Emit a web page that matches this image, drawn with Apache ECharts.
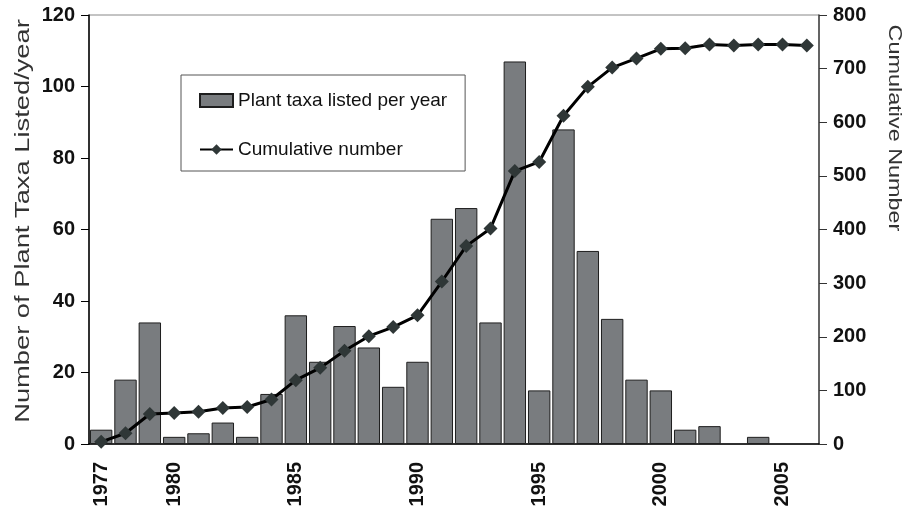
<!DOCTYPE html>
<html>
<head>
<meta charset="utf-8">
<script src="https://cdn.jsdelivr.net/npm/echarts@6/dist/echarts.min.js"></script>
<style>
html, body { margin: 0; padding: 0; background: #fff; }
#chart { width: 907px; height: 514px; }
</style>
</head>
<body>
<div id="chart"></div>
<script>
// years on the x axis, only some get a label
var years = ['1977','1978','1979','1980','1981','1982','1983','1984','1985','1986',
             '1987','1988','1989','1990','1991','1992','1993','1994','1995','1996',
             '1997','1998','1999','2000','2001','2002','2003','2004','2005','2006'];
var labelYears = ['1977','1980','1985','1990','1995','2000','2005'];

// plant taxa listed per year (left axis)
var perYear = [4, 18, 34, 2, 3, 6, 2, 14, 36, 23,
               33, 27, 16, 23, 63, 66, 34, 107, 15, 88,
               54, 35, 18, 15, 4, 5, 0, 2, 0, 0];

// cumulative number (right axis)
var cumulative = [4, 20, 56, 58, 60, 67, 69, 83, 119, 142,
                  174, 201, 218, 240, 303, 369, 402, 509, 526, 612,
                  666, 702, 719, 737, 738, 745, 743, 745, 745, 743];

var font = 'Liberation Sans, Arial, sans-serif';

var myChart = echarts.init(document.getElementById('chart'));
var option = {
    animation: false,
    textStyle: { fontFamily: font },
    grid: {
        left: 89, right: 88, top: 15, bottom: 70,
        show: true,
        borderColor: '#888',
        borderWidth: 1
    },
    legend: {
        orient: 'vertical',
        left: 181,
        top: 75,
        padding: [16, 18, 12, 18],
        itemGap: 30,
        itemWidth: 33,
        itemHeight: 13,
        borderColor: '#555',
        borderWidth: 1,
        backgroundColor: '#fff',
        textStyle: { fontSize: 19, color: '#111', fontFamily: font },
        data: [
            { name: 'Plant taxa listed per year', icon: 'rect' },
            { name: 'Cumulative number' }
        ]
    },
    graphic: [
        {
            type: 'text',
            x: 23, y: 221,
            rotation: Math.PI / 2,
            scaleX: 1.3,
            style: {
                text: 'Number of Plant Taxa Listed/year',
                font: '21px ' + font,
                fill: '#333',
                textAlign: 'center',
                textVerticalAlign: 'middle'
            }
        },
        {
            type: 'text',
            x: 894, y: 128,
            rotation: -Math.PI / 2,
            scaleX: 1.3,
            style: {
                text: 'Cumulative Number',
                font: '18px ' + font,
                fill: '#333',
                textAlign: 'center',
                textVerticalAlign: 'middle'
            }
        }
    ],
    xAxis: {
        type: 'category',
        data: years,
        boundaryGap: true,
        axisLine: { lineStyle: { color: '#000', width: 1.5 } },
        axisTick: { interval: 0, length: 7, lineStyle: { color: '#000' } },
        axisLabel: {
            interval: function (idx, val) { return labelYears.indexOf(val) >= 0; },
            rotate: 90,
            margin: 18,
            fontSize: 20,
            fontWeight: 'bold',
            color: '#111'
        },
        splitLine: { show: false }
    },
    yAxis: [
        {
            type: 'value',
            min: 0, max: 120, interval: 20,
            axisLine: { show: true, lineStyle: { color: '#000', width: 1.5 } },
            axisTick: { show: true, length: 8, lineStyle: { color: '#000' } },
            axisLabel: { margin: 14, fontSize: 20, fontWeight: 'bold', color: '#111' },
            splitLine: { show: false }
        },
        {
            type: 'value',
            min: 0, max: 800, interval: 100,
            position: 'right',
            axisLine: { show: true, lineStyle: { color: '#444', width: 1.5 } },
            axisTick: { show: true, length: 8, lineStyle: { color: '#333' } },
            axisLabel: { margin: 14, fontSize: 20, fontWeight: 'bold', color: '#111' },
            splitLine: { show: false }
        }
    ],
    series: [
        {
            name: 'Plant taxa listed per year',
            type: 'bar',
            yAxisIndex: 0,
            barCategoryGap: '8%',
            itemStyle: { color: '#797c7f', borderColor: '#1e1e1e', borderWidth: 1 },
            // years with nothing listed draw no bar at all
            data: perYear.map(function (v) { return v === 0 ? '-' : v; })
        },
        {
            name: 'Cumulative number',
            type: 'line',
            yAxisIndex: 1,
            symbol: 'diamond',
            symbolSize: 14,
            z: 5,
            lineStyle: { color: '#000', width: 3 },
            itemStyle: { color: '#2f3737' },
            data: cumulative
        }
    ]
};
myChart.setOption(option);
</script>
</body>
</html>
